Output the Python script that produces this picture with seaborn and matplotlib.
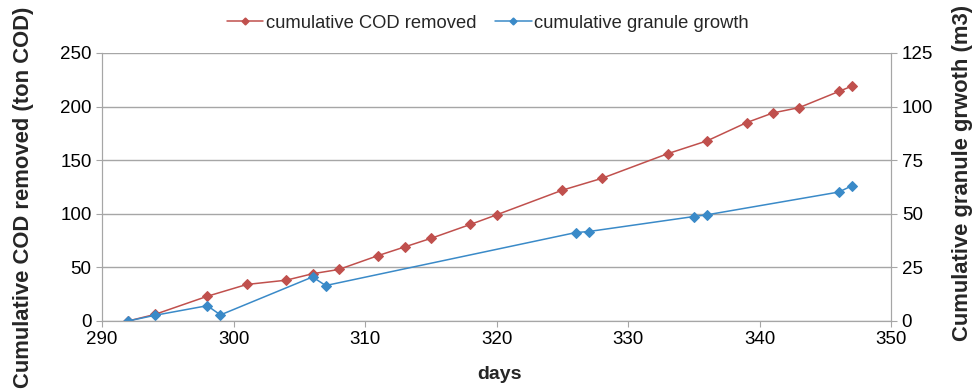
import pandas as pd
import matplotlib.pyplot as plt
import seaborn as sns
from matplotlib.lines import Line2D

# values
cod_days = [292, 294, 298, 301, 304, 306, 308, 311, 313, 315, 318, 320,
            325, 328, 333, 336, 339, 341, 343, 346, 347]
cod_removed = [0, 6, 23, 34, 38, 44, 48, 61, 69, 77, 90, 99,
               122, 133, 156, 168, 185, 194, 199, 214, 219]

granule_days = [292, 294, 298, 299, 306, 307, 326, 327, 335, 336, 346, 347]
granule_growth = [0, 2.6, 7.1, 2.8, 20.5, 16.5, 41.2, 41.7, 48.7, 49.5, 60.1, 63]

red = '#C0504D'
blue = '#3A8AC8'
grey = '#A6A6A6'


def main():
    sns.set_style('white')
    plt.rcParams['font.family'] = ['Liberation Sans', 'DejaVu Sans']

    cod_df = pd.DataFrame({'days': cod_days, 'cod': cod_removed})
    gran_df = pd.DataFrame({'days': granule_days, 'growth': granule_growth})

    fig, ax = plt.subplots(figsize=(9.72, 3.89), dpi=100)
    fig.subplots_adjust(left=0.105, right=0.917, top=0.864, bottom=0.175)

    sns.lineplot(data=cod_df, x='days', y='cod', ax=ax, color=red,
                 marker='D', markersize=5, markeredgecolor=red, linewidth=1.1)
    ax2 = ax.twinx()
    sns.lineplot(data=gran_df, x='days', y='growth', ax=ax2, color=blue,
                 marker='D', markersize=5, markeredgecolor=blue, linewidth=1.1)

    ax.set_xlim(290, 350)
    ax.set_ylim(0, 250)
    ax2.set_ylim(0, 125)
    ax.set_xticks(range(290, 351, 10))
    ax.set_yticks(range(0, 251, 50))
    ax2.set_yticks(range(0, 126, 25))

    ax.yaxis.grid(True, color=grey, linewidth=1)
    ax.set_axisbelow(True)

    for a in (ax, ax2):
        a.spines['top'].set_visible(False)
        for s in ('left', 'right', 'bottom'):
            a.spines[s].set_color(grey)
        a.tick_params(axis='both', labelsize=13.5, colors=grey,
                      labelcolor='black', length=4, direction='out')
    ax.tick_params(axis='both', left=True, bottom=True)
    ax2.tick_params(axis='y', right=True)

    ax.set_xlabel('days', fontsize=14, fontweight='bold')
    ax.set_ylabel('Cumulative COD removed (ton COD)', fontsize=15.8,
                  fontweight='bold')
    ax2.set_ylabel('Cumulative granule grwoth (m3)', fontsize=15.8,
                   fontweight='bold', rotation=90)
    ax.xaxis.set_label_coords(0.503, -0.17)
    ax.yaxis.set_label_coords(-0.086, 0.463)
    ax2.yaxis.set_label_coords(1.077, 0.552)

    handles = [
        Line2D([], [], color=red, marker='D', markersize=3.5, linewidth=1.1),
        Line2D([], [], color=blue, marker='D', markersize=3.5, linewidth=1.1),
    ]
    fig.legend(handles, ['cumulative COD removed', 'cumulative granule growth'],
               loc='upper center', bbox_to_anchor=(0.502, 1.005), ncol=2,
               frameon=False, fontsize=13.2, handlelength=2.0,
               handletextpad=0.15, columnspacing=1.0)

    fig.savefig('out.png', dpi=100)


if __name__ == '__main__':
    main()
